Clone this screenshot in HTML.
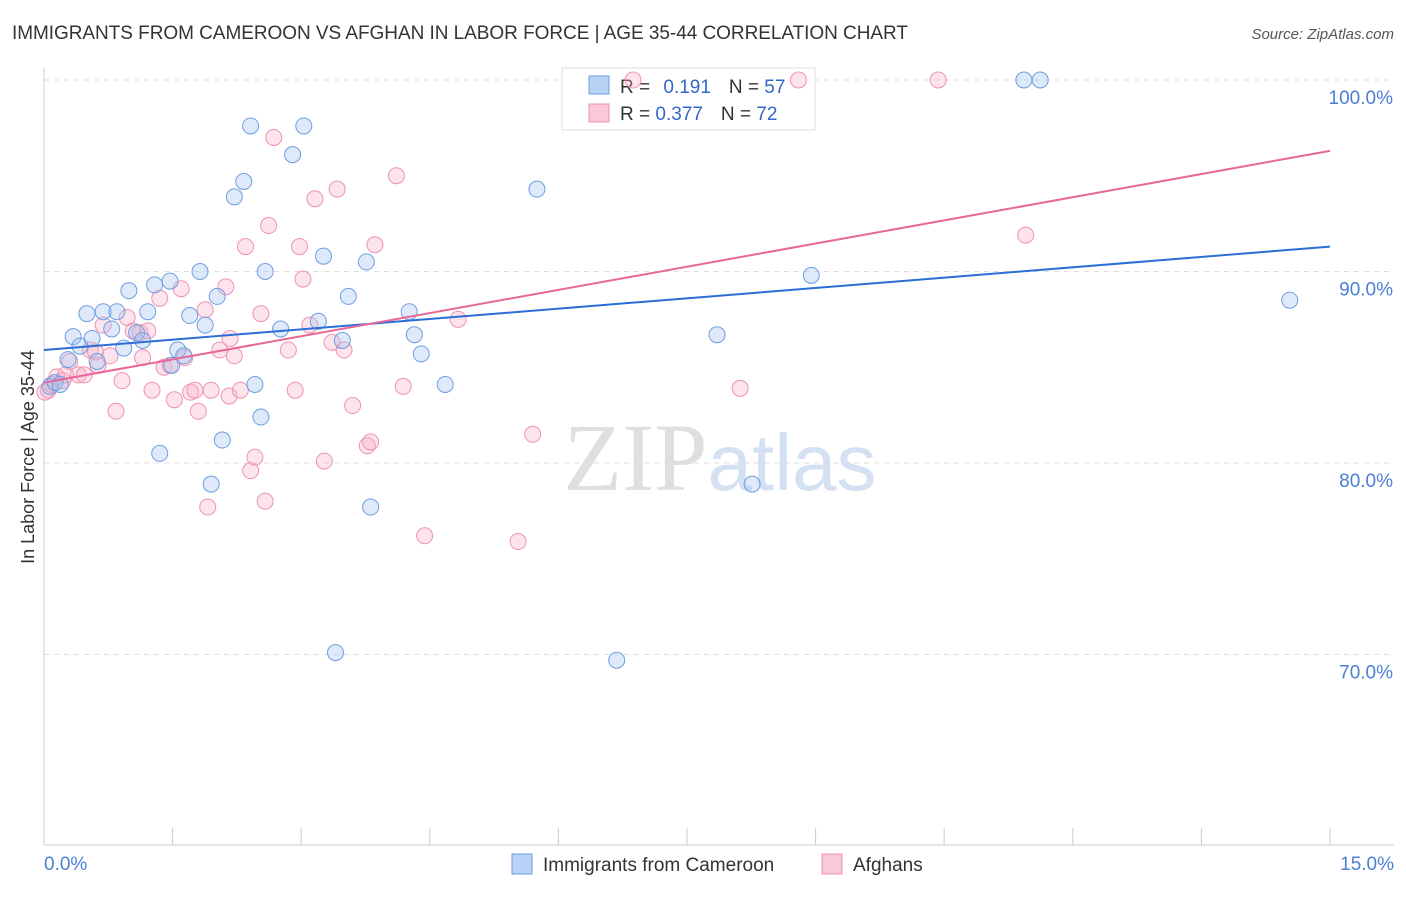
<!DOCTYPE html>
<html><head><meta charset="utf-8"><style>
body{margin:0;background:#fff;font-family:"Liberation Sans",sans-serif}
</style></head><body>
<svg width="1406" height="892" xmlns="http://www.w3.org/2000/svg" font-family="Liberation Sans, sans-serif">
<text x="12" y="39" font-size="19" fill="#333" textLength="896">IMMIGRANTS FROM CAMEROON VS AFGHAN IN LABOR FORCE | AGE 35-44 CORRELATION CHART</text>
<text x="1394" y="39" font-size="15" fill="#555" text-anchor="end" font-style="italic">Source: ZipAtlas.com</text>
<text x="720" y="490" font-size="96" text-anchor="middle" fill="#ddd" opacity="0.8"><tspan font-family="Liberation Serif" fill="#d8d8d8">ZIP</tspan><tspan fill="#c9daf0" font-size="80">atlas</tspan></text>
<g id="grid"></g>
<g id="axes"></g>
<g>
<rect x="562" y="68" width="253" height="62" fill="#fff" stroke="#ddd"/>
<rect x="589" y="76" width="20" height="18" fill="#b8d3f5" stroke="#6e9ee0"/>
<rect x="589" y="104" width="20" height="18" fill="#fbc8d8" stroke="#ee93b1"/>
<text x="620" y="93" font-size="19" fill="#333">R = <tspan fill="#3366cc" dx="8">0.191</tspan><tspan dx="18" fill="#333">N = </tspan><tspan fill="#3366cc">57</tspan></text>
<text x="620" y="120" font-size="19" fill="#333">R = <tspan fill="#3366cc">0.377</tspan><tspan dx="18" fill="#333">N = </tspan><tspan fill="#3366cc">72</tspan></text>
</g>
<g id="points"></g>
<g id="lines"></g>
<text transform="translate(34,457) rotate(-90)" font-size="18" fill="#333" text-anchor="middle">In Labor Force | Age 35-44</text>
<text x="44" y="870" font-size="19" fill="#4a7fd4">0.0%</text>
<text x="1394" y="870" font-size="19" fill="#4a7fd4" text-anchor="end">15.0%</text>
<g>
<rect x="512" y="854" width="20" height="20" fill="#b8d3f5" stroke="#6e9ee0"/>
<text x="543" y="871" font-size="19" fill="#333">Immigrants from Cameroon</text>
<rect x="822" y="854" width="20" height="20" fill="#fbc8d8" stroke="#ee93b1"/>
<text x="853" y="871" font-size="19" fill="#333">Afghans</text>
</g>
</svg>
<script>
const yTicks=[100,90,80,70];
const yTickLabels=["100.0%","90.0%","80.0%","70.0%"];
const blueX=[0.07,0.13,0.19,0.34,0.28,0.42,0.5,0.56,0.62,0.69,0.79,0.85,0.93,0.99,1.08,1.15,1.21,1.29,1.35,1.47,1.49,1.56,1.63,1.70,1.82,1.88,1.95,2.02,2.08,2.22,2.33,2.41,2.46,2.53,2.58,2.76,2.90,3.03,3.20,3.26,3.40,3.48,3.55,3.76,3.81,4.26,4.32,4.40,4.68,5.75,6.68,7.85,8.26,8.95,11.43,11.62,14.53];
const blueY=[84.0,84.2,84.1,86.6,85.4,86.1,87.8,86.5,85.3,87.9,87.0,87.9,86.0,89.0,86.8,86.4,87.9,89.3,80.5,89.5,85.1,85.9,85.6,87.7,90.0,87.2,78.9,88.7,81.2,93.9,94.7,97.6,84.1,82.4,90.0,87.0,96.1,97.6,87.4,90.8,70.1,86.4,88.7,90.5,77.7,87.9,86.7,85.7,84.1,94.3,69.7,86.7,78.9,89.8,100,100,88.5];
const pinkX=[0.05,0.09,0.15,0.22,0.30,0.40,0.47,0.54,0.63,0.69,0.77,0.84,0.91,0.97,1.04,1.12,1.15,1.21,1.26,1.35,1.40,1.47,1.52,1.60,1.64,1.71,1.76,1.80,1.88,1.91,1.95,2.05,2.12,2.16,2.22,2.29,2.35,2.41,2.46,2.53,2.58,2.62,2.68,2.85,2.93,2.98,3.02,3.10,3.16,3.27,3.36,3.42,3.50,3.60,3.77,3.81,3.86,4.11,4.19,4.44,4.83,5.53,5.70,6.87,8.12,8.80,10.43,11.45,0.01,0.25,0.60,2.17];
const pinkY=[83.8,84.1,84.5,84.3,85.3,84.6,84.6,85.9,85.1,87.2,85.6,82.7,84.3,87.6,86.9,86.8,85.5,86.9,83.8,88.6,85.0,85.1,83.3,89.1,85.5,83.7,83.8,82.7,88.0,77.7,83.8,85.9,89.2,83.5,85.6,83.8,91.3,79.6,80.3,87.8,78.0,92.4,97.0,85.9,83.8,91.3,89.6,87.2,93.8,80.1,86.3,94.3,85.9,83.0,80.9,81.1,91.4,95.0,84.0,76.2,87.5,75.9,81.5,100,83.9,100,100,91.9,83.7,84.6,85.8,86.5];
const trends=[{name:"blue-trend-line",c:"#2b6fd6",y0:85.9,y1:91.3},{name:"pink-trend-line",c:"#e8669a",y0:84.2,y1:96.3}];
const NS="http://www.w3.org/2000/svg";
const X=v=>44+v*(1286/15), Y=v=>80+(100-v)*19.15;
function mk(t,a,p){const e=document.createElementNS(NS,t);for(const k in a)e.setAttribute(k,a[k]);document.getElementById(p).appendChild(e);return e;}
yTicks.forEach((t,i)=>{
 const l=mk('line',{x1:44,x2:1394,y1:Y(t),y2:Y(t),stroke:'#ddd','stroke-dasharray':'5,5'},'grid');
 
 
 const tx=mk('text',{x:1393,y:Y(t)+24,'font-size':19,fill:'#4a7fd4','text-anchor':'end'},'axes');
 tx.textContent=yTickLabels[i];
 
 
});
const ax=mk('line',{x1:44,x2:44,y1:68,y2:845,stroke:'#ccc'},'axes');


const bx=mk('line',{x1:44,x2:1394,y1:845,y2:845,stroke:'#ccc'},'axes');


for(let i=0;i<=10;i++){const t=mk('line',{x1:X(i*1.5),x2:X(i*1.5),y1:828,y2:845,stroke:'#ccc'},'axes');
 
 }
pinkX.forEach((v,i)=>{const c=mk('circle',{cx:X(v),cy:Y(pinkY[i]),r:8,fill:'rgba(248,176,200,0.35)',stroke:'#ee93b1','stroke-width':1},'points');
 
 });
blueX.forEach((v,i)=>{const c=mk('circle',{cx:X(v),cy:Y(blueY[i]),r:8,fill:'rgba(160,195,240,0.35)',stroke:'#6e9ee0','stroke-width':1},'points');
 
 });
trends.forEach(t=>{const l=mk('line',{x1:X(0),y1:Y(t.y0),x2:X(15),y2:Y(t.y1),stroke:t.c,'stroke-width':2},'lines');
 
 });
</script>
</body></html>
